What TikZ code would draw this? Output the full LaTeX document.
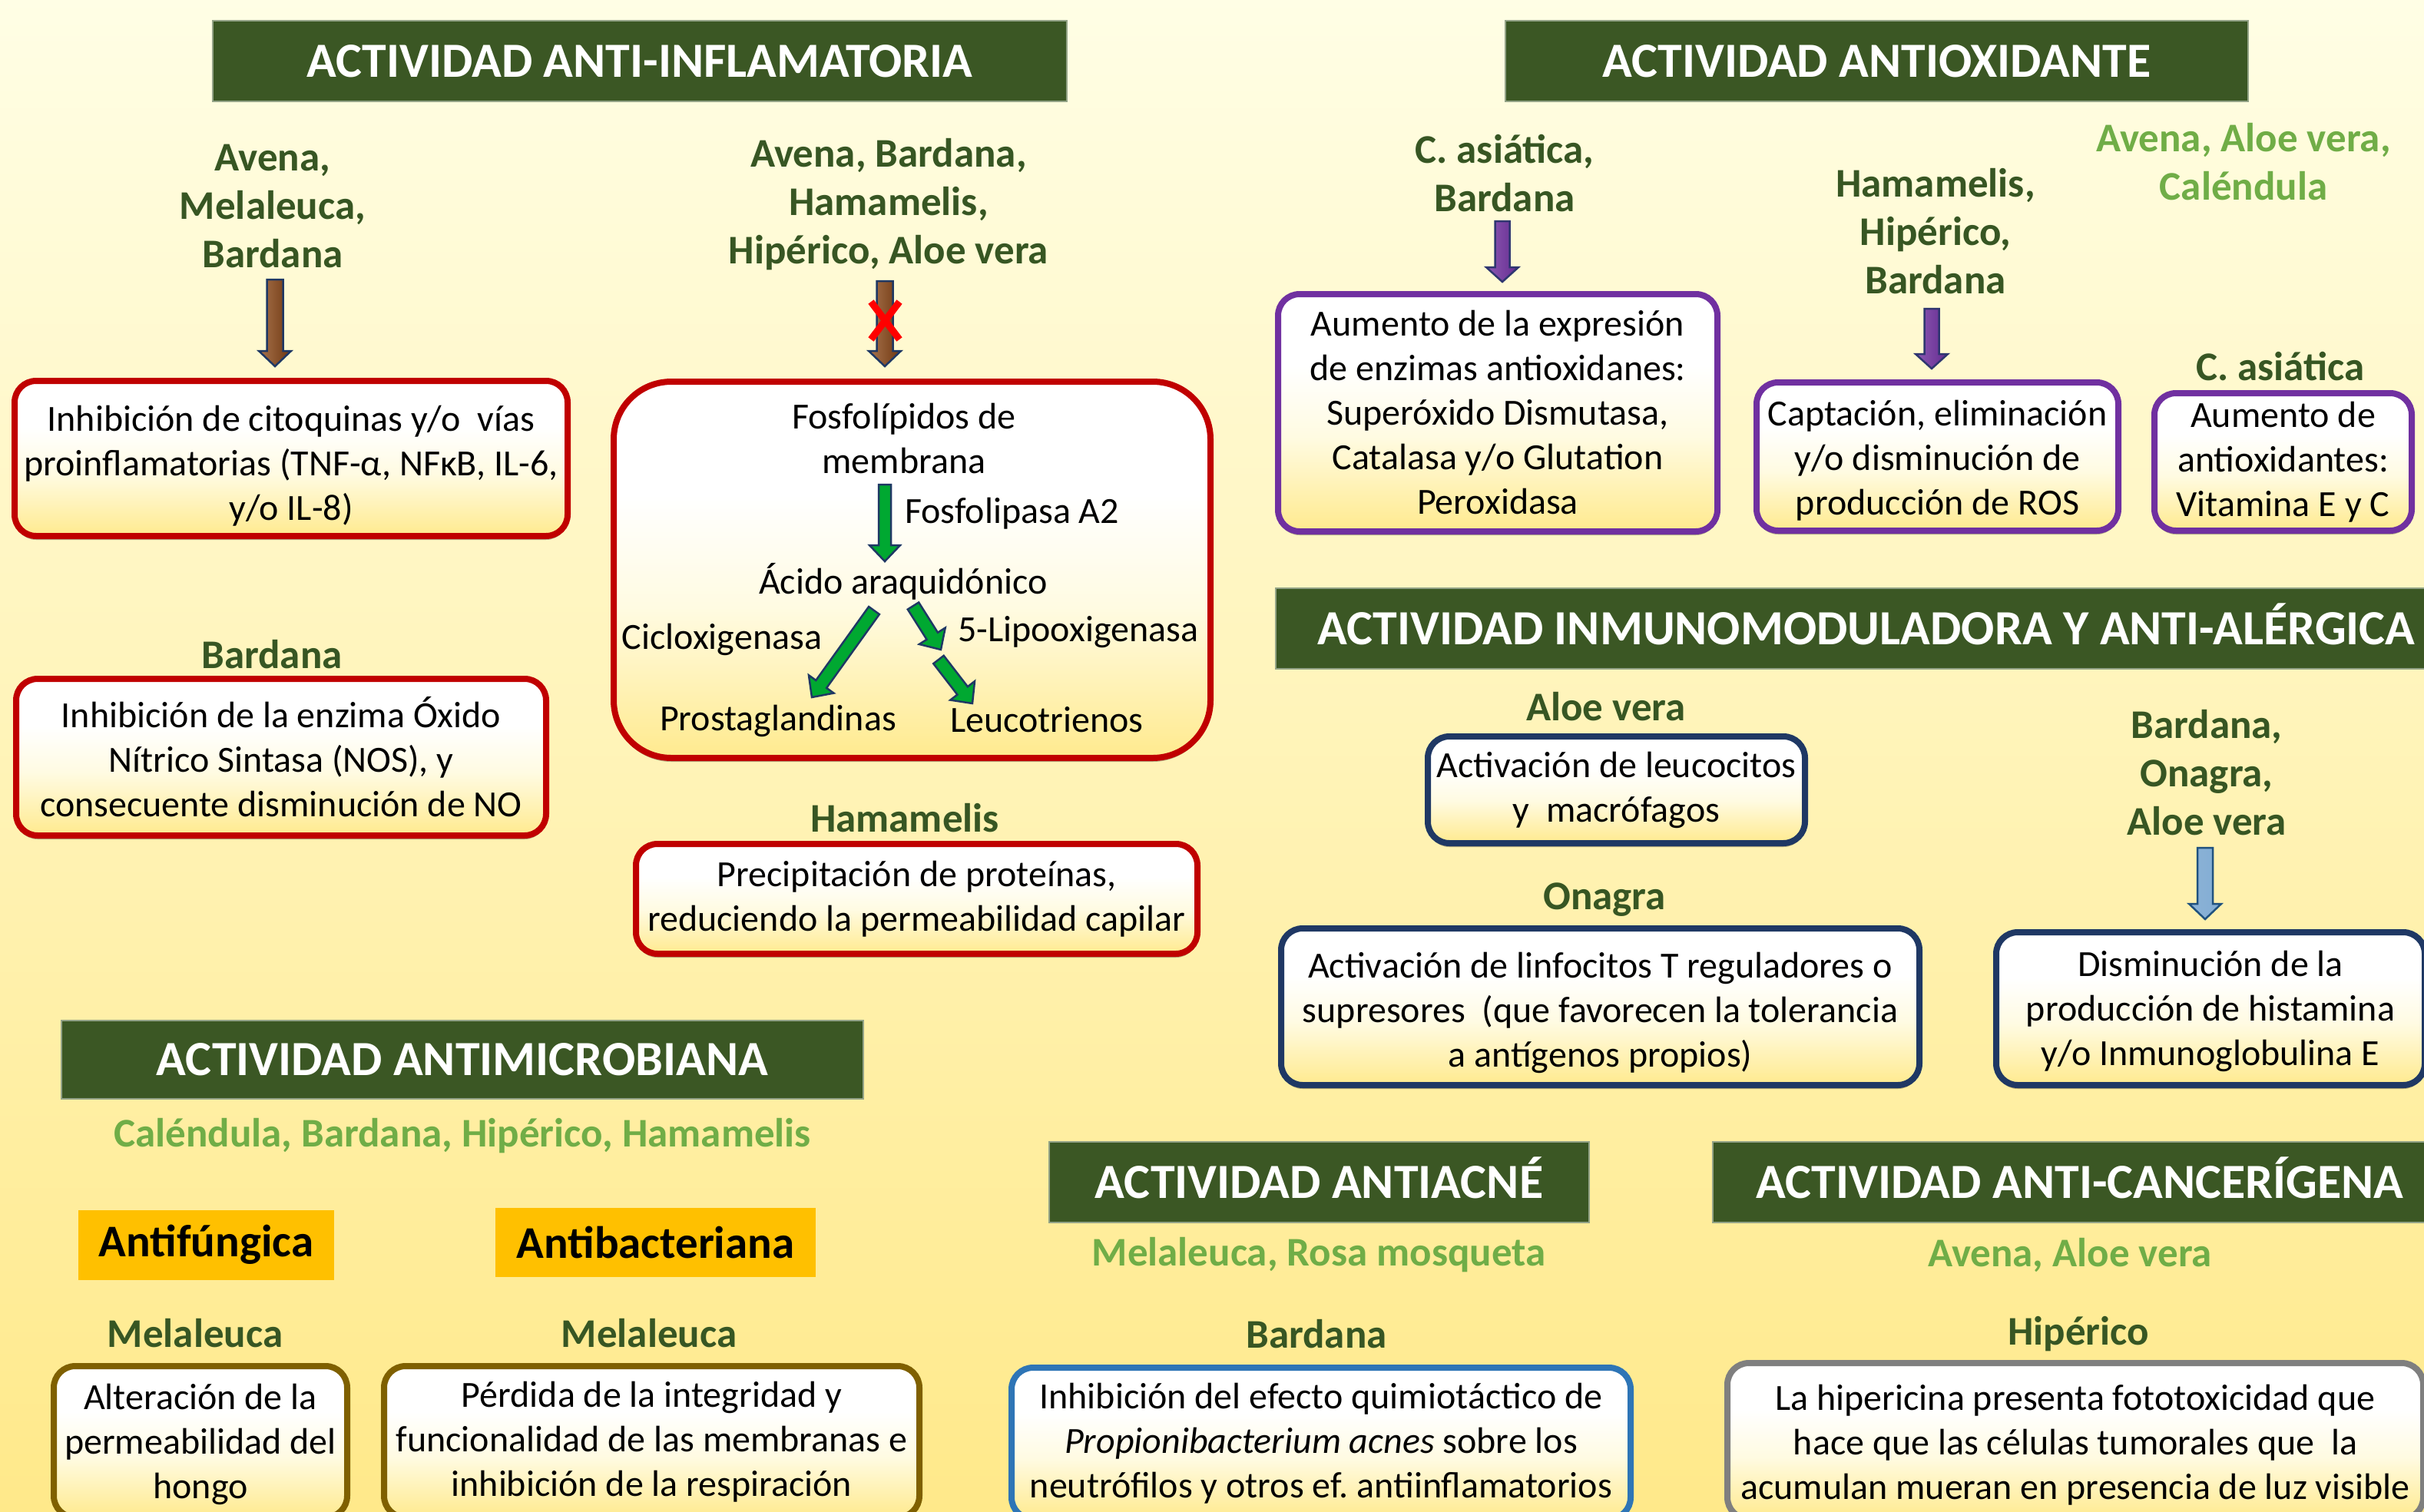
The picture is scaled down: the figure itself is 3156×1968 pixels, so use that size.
\documentclass[tikz,border=0pt]{standalone}
\usepackage{fontspec}
\setmainfont{Carlito}
\usetikzlibrary{arrows.meta,shadows,calc}
\definecolor{bgtop}{HTML}{FFFEE5}
\definecolor{bgmid}{HTML}{FFFAD0}
\definecolor{bgbot}{HTML}{FFE98A}
\definecolor{hdr}{HTML}{3B5724}
\definecolor{dkgreen}{HTML}{375623}
\definecolor{ltgreen}{HTML}{70AD47}
\definecolor{orng}{HTML}{FFC000}
\definecolor{redb}{HTML}{C00000}
\definecolor{purb}{HTML}{7030A0}
\definecolor{navb}{HTML}{1F3864}
\definecolor{goldb}{HTML}{7F6000}
\definecolor{blueb}{HTML}{2E75B6}
\definecolor{grayb}{HTML}{7F7F7F}
\definecolor{boxyel}{HTML}{FFDF5F}
\definecolor{boxyel2}{HTML}{FFEA8E}
\definecolor{boxcream}{HTML}{FFFBE2}
\definecolor{xred}{HTML}{FF0000}
\definecolor{brwn}{HTML}{8B4513}
\pgfdeclareverticalshading{boxshade}{100bp}{color(0bp)=(boxyel); color(25bp)=(boxyel2); color(45bp)=(boxcream); color(60bp)=(white); color(100bp)=(white)}
\newcommand\bodyfont{\fontsize{48}{58}\selectfont}
\newcommand\plantfont{\fontsize{53}{63}\selectfont\bfseries}
\newcommand\dn[1]{\rule{0pt}{#1}}
% block arrow: start, end, style, half shaft, half head, head length
\newcommand\blockarrow[6]{%
  \coordinate (baS) at (#1);
  \coordinate (baE) at (#2);
  \coordinate (baH) at ($(baE)!#6!(baS)$);
  \path[#3] ($(baS)!#4!90:(baE)$) -- ($(baH)!#4!90:(baE)$) -- ($(baH)!#5!90:(baE)$) -- (baE)
     -- ($(baH)!#5!-90:(baE)$) -- ($(baH)!#4!-90:(baE)$) -- ($(baS)!#4!-90:(baE)$) -- cycle;
}
\begin{document}
\begin{tikzpicture}[x=1pt,y=-1pt,
  hdrbox/.style={fill=hdr, draw=hdr!55!white, line width=1.5pt, text=white,
     font=\fontsize{64}{72}\selectfont\bfseries, inner sep=0pt, text height=41pt, text depth=0pt},
  plant/.style={text=dkgreen, font=\plantfont, align=center, inner sep=0pt},
  plantlt/.style={text=ltgreen, font=\plantfont, align=center, inner sep=0pt},
  txt/.style={font=\bodyfont, inner sep=0pt, align=center},
  bx/.style={rounded corners=28pt, line width=8pt, shading=boxshade, align=center,
     font=\bodyfont, inner sep=0pt,
     drop shadow={shadow xshift=0pt, shadow yshift=-5pt, opacity=0.3, fill=black}},
  orbox/.style={fill=orng, font=\fontsize{59}{66}\selectfont\bfseries, inner sep=0pt},
  brownar/.style={draw=navb, line width=2.5pt, line join=miter, left color=brwn!75!white, middle color=brwn!85!white, right color=brwn!80!black},
  purar/.style={draw=navb!80!purb, line width=2.5pt, line join=miter, left color=purb!80!white, middle color=purb!55!white, right color=purb!90!black},
  bluear/.style={draw=blueb!70!black, line width=2.5pt, line join=miter, left color=blueb!55!white, middle color=blueb!15!white, right color=blueb!60!white},
  greenar/.style={draw=navb, line width=2.5pt, line join=miter, fill=green!55!teal!85!black}
]
\path[use as bounding box] (0,0) rectangle (3156,1968);
\shade[top color=bgtop, middle color=bgmid, bottom color=bgbot] (0,0) rectangle (3156,1968);

% ---------- headers
\node[hdrbox, minimum width=1112pt, minimum height=105pt] (h1) at (833,79.5) {ACTIVIDAD ANTI-INFLAMATORIA};
\node[hdrbox, minimum width=967pt, minimum height=105pt] (h2) at (2443.5,79.5) {ACTIVIDAD ANTIOXIDANTE};
\node[hdrbox, minimum width=1538pt, minimum height=105pt] (h3) at (2430,818.5) {ACTIVIDAD INMUNOMODULADORA Y ANTI-ALÉRGICA};
\node[hdrbox, minimum width=1044pt, minimum height=102pt] (h4) at (602,1380) {ACTIVIDAD ANTIMICROBIANA};
\node[hdrbox, minimum width=703pt, minimum height=105pt] (h5) at (1717.5,1539.5) {ACTIVIDAD ANTIACNÉ};
\node[hdrbox, minimum width=956pt, minimum height=105pt] (h6) at (2708,1539.5) {ACTIVIDAD ANTI-CANCERÍGENA};

% ---------- plant labels
\node[plant] (lA) at (355,269) {Avena,\\Melaleuca,\\Bardana};
\node[plant] (lC) at (1157,266) {Avena, Bardana,\\Hamamelis,\\Hipérico, Aloe vera};
\node[plant] (lB) at (354,852) {Bardana};
\node[plant] (lN) at (1178,1065) {Hamamelis};
\node[plant] (lD) at (1959,226) {C.\ asiática,\\Bardana};
\node[plant] (lE) at (2520,301) {Hamamelis,\\Hipérico,\\Bardana};
\node[plantlt] (lAO) at (2921,211) {Avena, Aloe vera,\\Caléndula};
\node[plant] (lF) at (2969,477) {C.\ asiática};
\node[plant] (lG) at (2091,920) {Aloe vera};
\node[plant] (lH) at (2089,1172) {Onagra};
\node[plant] (lI) at (2873,1006) {Bardana,\\Onagra,\\Aloe vera};
\node[plantlt] (lMic) at (602,1479) {Caléndula, Bardana, Hipérico, Hamamelis};
\node[orbox, minimum width=333pt, minimum height=91pt] (af) at (268.5,1621) {Antifúngica};
\node[orbox, minimum width=417pt, minimum height=90pt] (ab) at (853.5,1618) {Antibacteriana};
\node[plant] (lJ) at (254,1736) {Melaleuca};
\node[plant] (lK) at (845,1736) {Melaleuca};
\node[plantlt] (lAc) at (1717,1634) {Melaleuca, Rosa mosqueta};
\node[plant] (lL) at (1714,1737) {Bardana};
\node[plantlt] (lCa) at (2695,1634) {Avena, Aloe vera};
\node[plant] (lM) at (2706,1737) {Hipérico};

% ---------- boxes
\node[bx, draw=redb, minimum width=720pt, minimum height=202pt] (bA) at (379,597)
  {\dn{52pt}Inhibición de citoquinas y/o\ \ vías\\proinflamatorias (TNF-α, NFκB, IL-6,\\y/o IL-8)};
\node[bx, draw=redb, minimum width=690pt, minimum height=204pt] (bB) at (366,986)
  {Inhibición de la enzima Óxido\\Nítrico Sintasa (NOS), y\\consecuente disminución de NO};
\node[bx, draw=redb, rounded corners=75pt, minimum width=777pt, minimum height=490pt] (bC) at (1187.5,742) {};
\node[bx, draw=redb, minimum width=731pt, minimum height=143pt] (bN) at (1193.5,1170.5)
  {Precipitación de proteínas,\\reduciendo la permeabilidad capilar};
\node[bx, draw=purb, minimum width=572pt, minimum height=309pt] (bD) at (1950,537.5)
  {Aumento de la expresión\\de enzimas antioxidanes:\\Superóxido Dismutasa,\\Catalasa y/o Glutation\\Peroxidasa};
\node[bx, draw=purb, minimum width=471pt, minimum height=193pt] (bE) at (2522.5,594.5)
  {\dn{44pt}Captación, eliminación\\y/o disminución de\\producción de ROS};
\node[bx, draw=purb, minimum width=335pt, minimum height=179pt] (bF) at (2972.5,601.5)
  {Aumento de\\antioxidantes:\\Vitamina E y C};
\node[bx, draw=navb, minimum width=491pt, minimum height=139pt] (bG) at (2104.5,1028.5)
  {Activación de leucocitos\\y\ \ macrófagos};
\node[bx, draw=navb, minimum width=831pt, minimum height=204pt] (bH) at (2083.5,1311)
  {\dn{50pt}Activación de linfocitos T reguladores o\\supresores\ \ (que favorecen la tolerancia\\a antígenos propios)};
\node[bx, draw=navb, minimum width=558pt, minimum height=199pt] (bI) at (2878,1313.5)
  {\dn{40pt}Disminución de la\\producción de histamina\\y/o Inmunoglobulina E};
\node[bx, draw=goldb, minimum width=382pt, minimum height=197pt] (bJ) at (261,1877.5)
  {\dn{40pt}Alteración de la\\permeabilidad del\\hongo};
\node[bx, draw=goldb, minimum width=697pt, minimum height=197pt] (bK) at (848.5,1877.5)
  {Pérdida de la integridad y\\funcionalidad de las membranas e\\inhibición de la respiración};
\node[bx, draw=blueb, minimum width=806pt, minimum height=197pt] (bL) at (1720,1879.5)
  {Inhibición del efecto quimiotáctico de\\\textit{Propionibacterium acnes} sobre los\\neutrófilos y otros ef.\ antiinflamatorios};
\node[bx, draw=grayb, minimum width=906pt, minimum height=203pt] (bM) at (2702,1876.5)
  {\dn{44pt}La hipericina presenta fototoxicidad que\\hace que las células tumorales que\ \ la\\acumulan mueran en presencia de luz visible};

% ---------- contents of the phospholipid box
\node[txt] (fosf) at (1177,571) {Fosfolípidos de\\membrana};
\node[txt, anchor=west] (fla2) at (1178,669) {Fosfolipasa A2};
\node[txt] (acido) at (1176,757) {Ácido araquidónico};
\node[txt] (ciclo) at (940,833) {Cicloxigenasa};
\node[txt, anchor=west] (lipo) at (1247,823) {5-Lipooxigenasa};
\node[txt] (prosta) at (1013,939) {Prostaglandinas};
\node[txt] (leuco) at (1363,937) {Leucotrienos};

% ---------- block arrows
\coordinate (aA) at (358,364);
\blockarrow{aA}{$(aA |- bA.north)+(0,-15)$}{brownar}{10.5pt}{21pt}{20pt}
\coordinate (aC) at (1152,366);
\blockarrow{aC}{$(aC |- bC.north)+(0,-16)$}{brownar}{10.5pt}{21pt}{20pt}
\draw[xred, line width=9pt] (1134,393) -- (1171,442) (1171,393) -- (1134,442);
\coordinate (aD) at (1956,288);
\blockarrow{aD}{$(aD |- bD.north)+(0,-12)$}{purar}{9.5pt}{21pt}{19pt}
\coordinate (aE) at (2515,402);
\blockarrow{aE}{$(aE |- bE.north)+(0,-14)$}{purar}{9.5pt}{21pt}{19pt}
\coordinate (aI) at (2871,1104);
\blockarrow{aI}{$(aI |- bI.north)+(0,-13)$}{bluear}{10pt}{21pt}{20pt}

\coordinate (g1s) at (1152,631);
\coordinate (g1e) at (1152,731);
\blockarrow{g1s}{g1e}{greenar}{8pt}{20pt}{21pt}
\coordinate (g2s) at (1138,795);
\coordinate (g2e) at (1057,908);
\blockarrow{g2s}{g2e}{greenar}{8.5pt}{20pt}{21pt}
\coordinate (g3s) at (1189,789);
\coordinate (g3e) at (1225,846);
\blockarrow{g3s}{g3e}{greenar}{8.5pt}{20pt}{21pt}
\coordinate (g4s) at (1222,859);
\coordinate (g4e) at (1266,916);
\blockarrow{g4s}{g4e}{greenar}{8.5pt}{20pt}{21pt}
\end{tikzpicture}
\end{document}
